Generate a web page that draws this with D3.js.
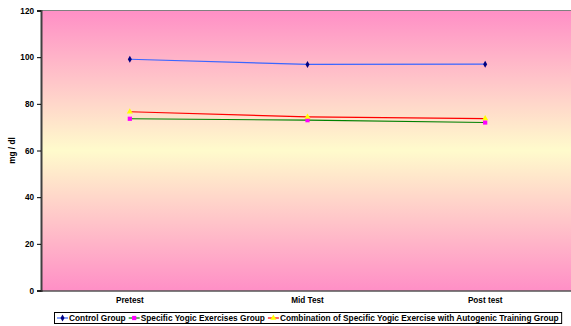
<!DOCTYPE html>
<html>
<head>
<meta charset="utf-8">
<script src="https://cdn.jsdelivr.net/npm/d3@7"></script>
<style>
  html, body { margin: 0; padding: 0; background: #fff; }
  svg { display: block; font-family: Arial, "Liberation Sans", sans-serif; }
</style>
</head>
<body>
<svg id="chart" width="571" height="326"></svg>
<script>
// Test phases and blood values (mg / dl) per group
const categories = ["Pretest", "Mid Test", "Post test"];
const controlGroup = [99.1, 96.9, 97.0];
const yogicGroup = [73.6, 73.0, 72.0];
const combinedGroup = [76.6, 74.4, 73.7];
const yTicks = [0, 20, 40, 60, 80, 100, 120];
const seriesNames = [
  "Control Group",
  "Specific Yogic Exercises Group",
  "Combination of Specific Yogic Exercise with Autogenic Training Group"
];

const series = [
  { name: seriesNames[0], values: controlGroup, line: "#3a66ff", fill: "#000080", shape: d3.symbolDiamond, size: 14 },
  { name: seriesNames[1], values: yogicGroup, line: "#008000", fill: "#ff00ff", shape: d3.symbolSquare, size: 18 },
  { name: seriesNames[2], values: combinedGroup, line: "#ff0000", fill: "#ffff00", shape: d3.symbolTriangle, size: 16 }
];

const svg = d3.select("#chart");
const plot = { left: 41, top: 10.5, right: 574, bottom: 290.5 };

const x = d3.scaleBand().domain(categories).range([plot.left, plot.right]);
const y = d3.scaleLinear().domain([0, 120]).range([plot.bottom, plot.top]);

// Plot background: pink at the edges fading to pale yellow in the middle
const defs = svg.append("defs");
const grad = defs.append("linearGradient")
  .attr("id", "bg").attr("x1", 0).attr("y1", 0).attr("x2", 0).attr("y2", 1);
grad.append("stop").attr("offset", "0%").attr("stop-color", "#ff8fc6");
grad.append("stop").attr("offset", "50%").attr("stop-color", "#fffbcc");
grad.append("stop").attr("offset", "100%").attr("stop-color", "#ff8fc6");

svg.append("rect")
  .attr("x", plot.left).attr("y", plot.top)
  .attr("width", plot.right - plot.left).attr("height", plot.bottom - plot.top)
  .attr("fill", "url(#bg)");

// Top border of the plot area
svg.append("line")
  .attr("x1", plot.left).attr("x2", plot.right)
  .attr("y1", plot.top).attr("y2", plot.top)
  .attr("stroke", "#808080").attr("stroke-width", 1.2);

// Y axis
const yAxis = svg.append("g")
  .attr("transform", `translate(${plot.left},0)`)
  .call(d3.axisLeft(y).tickValues(yTicks).tickSize(4).tickPadding(3).tickFormat(d3.format("d")));
yAxis.select(".domain").attr("stroke", "#404040").attr("stroke-width", 2);
yAxis.selectAll(".tick line").attr("stroke", "#000");
yAxis.selectAll(".tick text")
  .attr("font-size", 8.2).attr("font-weight", "bold").attr("fill", "#000");

// X axis
const xAxis = svg.append("g")
  .attr("transform", `translate(0,${plot.bottom})`)
  .call(d3.axisBottom(x).tickSize(0).tickPadding(7));
xAxis.select(".domain").attr("stroke", "#000").attr("stroke-width", 1.2);
xAxis.selectAll(".tick text")
  .attr("font-size", 8.2).attr("font-weight", "bold").attr("fill", "#000");

// Y axis title
svg.append("text")
  .attr("transform", `translate(15,${(plot.top + plot.bottom) / 2}) rotate(-90)`)
  .attr("text-anchor", "middle")
  .attr("font-size", 8.2).attr("font-weight", "bold")
  .text("mg / dl");

// Series lines and markers
const cx = c => x(c) + x.bandwidth() / 2;
const lineGen = d3.line().x((d, i) => cx(categories[i])).y(d => y(d));

series.forEach(s => {
  svg.append("path")
    .datum(s.values)
    .attr("d", lineGen)
    .attr("fill", "none")
    .attr("stroke", s.line)
    .attr("stroke-width", 1.2);
});
series.forEach(s => {
  svg.append("g").selectAll("path")
    .data(s.values)
    .join("path")
    .attr("transform", (d, i) => `translate(${cx(categories[i])},${y(d)})`)
    .attr("d", d3.symbol().type(s.shape).size(s.size))
    .attr("fill", s.fill);
});

// Legend
const legend = svg.append("g");
const legendBox = legend.append("rect")
  .attr("y", 312.5).attr("height", 11)
  .attr("fill", "#fff").attr("stroke", "#000").attr("stroke-width", 1);

let lx = 57;
const ly = 318;
series.forEach(s => {
  const item = legend.append("g");
  item.append("line")
    .attr("x1", lx).attr("x2", lx + 11)
    .attr("y1", ly).attr("y2", ly)
    .attr("stroke", s.line).attr("stroke-width", 1.2);
  item.append("path")
    .attr("transform", `translate(${lx + 5.5},${ly})`)
    .attr("d", d3.symbol().type(s.shape).size(s.size))
    .attr("fill", s.fill);
  const t = item.append("text")
    .attr("x", lx + 12).attr("y", ly + 3)
    .attr("font-size", 8.3).attr("font-weight", "bold")
    .text(s.name);
  lx += 12 + t.node().getComputedTextLength() + 3;
});
legendBox.attr("x", 54.5).attr("width", lx - 3 - 54.5 + 3);
</script>
</body>
</html>
